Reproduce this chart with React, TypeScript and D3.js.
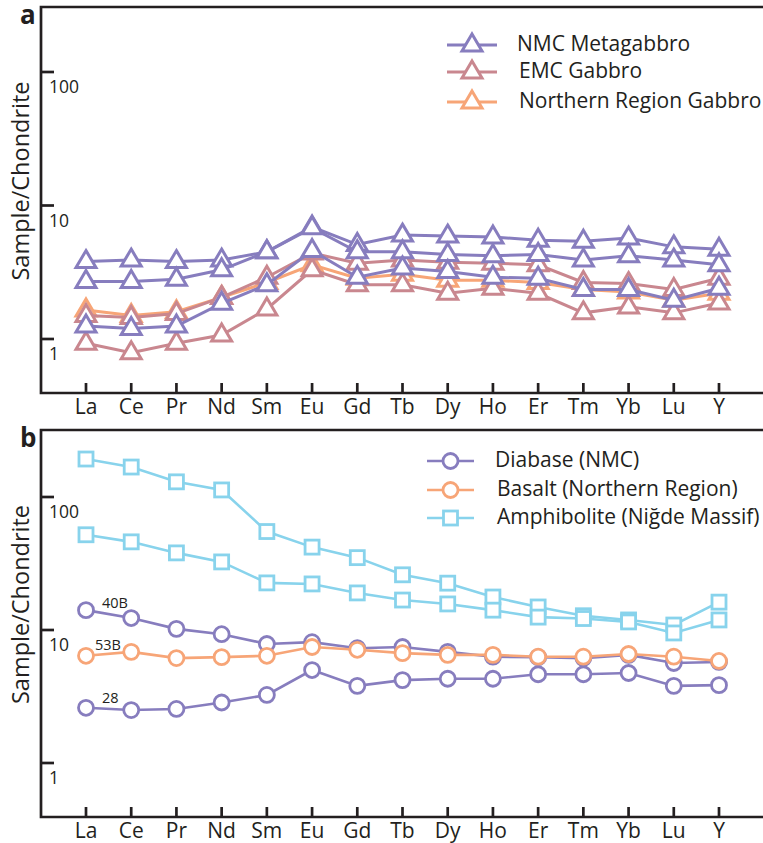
import React from "react";
import * as d3 from "d3";

// REE + Y, chondrite-normalised
const elements = ["La", "Ce", "Pr", "Nd", "Sm", "Eu", "Gd", "Tb", "Dy", "Ho", "Er", "Tm", "Yb", "Lu", "Y"];
const yTicks = [1, 10, 100];

// panel a
const nmcMetagabbro = [
  [3.8, 3.9, 3.8, 3.9, 4.5, 6.9, 5.1, 6.0, 5.9, 5.8, 5.5, 5.4, 5.7, 4.9, 4.7],
  [2.7, 2.7, 2.8, 3.3, 4.5, 6.8, 4.5, 4.5, 4.3, 4.2, 4.3, 3.9, 4.2, 3.9, 3.6],
  [1.25, 1.2, 1.25, 1.85, 2.55, 4.6, 2.9, 3.4, 3.2, 2.9, 2.85, 2.35, 2.35, 1.95, 2.4],
];
const emcGabbro = [
  [1.5, 1.45, 1.55, 2.05, 2.9, 4.4, 3.7, 3.9, 3.75, 3.7, 3.6, 2.65, 2.6, 2.35, 2.85],
  [0.93, 0.79, 0.93, 1.07, 1.68, 3.3, 2.55, 2.55, 2.2, 2.4, 2.2, 1.57, 1.74, 1.57, 1.86],
];
const northernGabbro = [
  [1.65, 1.5, 1.6, 2.05, 2.65, 3.6, 2.85, 3.05, 2.75, 2.75, 2.65, 2.35, 2.25, 1.95, 2.2],
];

// panel b
const diabase40B = [14.1, 12.3, 10.2, 9.3, 7.85, 8.1, 7.3, 7.45, 6.85, 6.3, 6.25, 6.15, 6.5, 5.65, 5.75];
const diabase28 = [2.6, 2.5, 2.55, 2.85, 3.25, 5.0, 3.8, 4.2, 4.3, 4.3, 4.65, 4.65, 4.75, 3.8, 3.85];
const basalt53B = [6.4, 6.85, 6.15, 6.25, 6.4, 7.45, 7.1, 6.7, 6.5, 6.5, 6.3, 6.3, 6.6, 6.3, 5.85];
const amphibolite = [
  [193, 168, 130, 113, 55, 42, 35, 26, 22.5, 17.7, 14.9, 12.8, 11.9, 10.9, 16.2],
  [52, 46, 38, 32.5, 22.6, 22.2, 19, 16.8, 15.7, 14.1, 12.5, 12.2, 11.5, 9.5, 11.9],
];

const PURPLE = "#877dbe";
const PINK = "#c9878f";
const ORANGE = "#f7a577";
const CYAN = "#88d3ec";
const INK = "#231f20";
const FONT = "'Open Sans', 'Noto Sans', sans-serif";

const W = 763;
const H = 843;
const left = 41;

const x = d3.scalePoint<string>().domain(elements).range([86, 719]);

type Marker = "triangle" | "circle" | "square";

const triangle = "M0,-11L10,6L-10,6Z";

function MarkerShape({ kind, cx, cy, color }: { kind: Marker; cx: number; cy: number; color: string }) {
  if (kind === "circle")
    return <circle cx={cx} cy={cy} r={7.5} fill="white" stroke={color} strokeWidth={2.8} />;
  if (kind === "square")
    return <rect x={cx - 7} y={cy - 7} width={14} height={14} fill="white" stroke={color} strokeWidth={2.8} />;
  return <path d={triangle} transform={`translate(${cx},${cy})`} fill="white" stroke={color} strokeWidth={3} strokeLinejoin="miter" />;
}

function Series({ values, y, color, kind, width }: { values: number[]; y: d3.ScaleLogarithmic<number, number>; color: string; kind: Marker; width: number }) {
  const line = d3
    .line<number>()
    .x((_, i) => x(elements[i]) as number)
    .y((d) => y(d));
  return (
    <g>
      <path d={line(values) || ""} fill="none" stroke={color} strokeWidth={width} />
      {values.map((v, i) => (
        <MarkerShape key={i} kind={kind} cx={x(elements[i]) as number} cy={y(v)} color={color} />
      ))}
    </g>
  );
}

function Frame({ top, bottom, y, letter }: { top: number; bottom: number; y: d3.ScaleLogarithmic<number, number>; letter: string }) {
  const mid = (top + bottom) / 2;
  return (
    <g>
      <path d={`M${W},${top}H${left}V${bottom}H${W}`} fill="none" stroke={INK} strokeWidth={2.7} />
      {yTicks.map((t) => (
        <g key={t}>
          <line x1={left} x2={left + 13} y1={y(t)} y2={y(t)} stroke={INK} strokeWidth={2.7} />
          <text x={49} y={y(t) + 21} fontSize={17.5} fill={INK} fontFamily={FONT}>
            {t}
          </text>
        </g>
      ))}
      {elements.map((e) => (
        <g key={e}>
          <line x1={x(e)} x2={x(e)} y1={bottom} y2={bottom - 10} stroke={INK} strokeWidth={2.7} />
          <text x={x(e)} y={bottom + 21} fontSize={21} textAnchor="middle" fill={INK} fontFamily={FONT}>
            {e}
          </text>
        </g>
      ))}
      <text
        transform={`translate(29,${mid - 19}) rotate(-90)`}
        textAnchor="middle"
        fontSize={23.5}
        fill={INK}
        fontFamily={FONT}
      >
        Sample/Chondrite
      </text>
      <text x={20} y={top + 17} fontSize={26} fontWeight="bold" fill={INK} fontFamily={FONT}>
        {letter}
      </text>
    </g>
  );
}

function Legend({ items, x0, x1, tx, ys, width }: { items: { label: string; color: string; kind: Marker }[]; x0: number; x1: number; tx: number; ys: number[]; width: number }) {
  return (
    <g>
      {items.map((it, i) => (
        <g key={it.label}>
          <line x1={x0} x2={x1} y1={ys[i]} y2={ys[i]} stroke={it.color} strokeWidth={width} />
          <MarkerShape kind={it.kind} cx={(x0 + x1) / 2} cy={ys[i]} color={it.color} />
          <text x={tx + (i > 0 ? 2 : 0)} y={ys[i] + 6} fontSize={21} fill={INK} fontFamily={FONT}>
            {it.label}
          </text>
        </g>
      ))}
    </g>
  );
}

export default function App() {
  const yA = d3.scaleLog().domain([1, 100]).range([339, 72]);
  const yB = d3.scaleLog().domain([1, 100]).range([763, 497]);

  return (
    <svg width={W} height={H} style={{ position: "absolute", left: 0, top: 0, background: "white" }}>
      {/* panel a */}
      <Frame top={7} bottom={393} y={yA} letter="a" />
      {northernGabbro.map((s, i) => (
        <Series key={"o" + i} values={s} y={yA} color={ORANGE} kind="triangle" width={3} />
      ))}
      {emcGabbro.map((s, i) => (
        <Series key={"p" + i} values={s} y={yA} color={PINK} kind="triangle" width={3} />
      ))}
      {nmcMetagabbro.map((s, i) => (
        <Series key={"m" + i} values={s} y={yA} color={PURPLE} kind="triangle" width={3} />
      ))}
      <Legend
        items={[
          { label: "NMC Metagabbro", color: PURPLE, kind: "triangle" },
          { label: "EMC Gabbro", color: PINK, kind: "triangle" },
          { label: "Northern Region Gabbro", color: ORANGE, kind: "triangle" },
        ]}
        x0={447}
        x1={497}
        tx={517}
        ys={[45, 72, 102]}
        width={3}
      />

      {/* panel b */}
      <Frame top={430} bottom={817} y={yB} letter="b" />
      {amphibolite.map((s, i) => (
        <Series key={"c" + i} values={s} y={yB} color={CYAN} kind="square" width={2.6} />
      ))}
      <Series values={diabase40B} y={yB} color={PURPLE} kind="circle" width={2.6} />
      <Series values={diabase28} y={yB} color={PURPLE} kind="circle" width={2.6} />
      <Series values={basalt53B} y={yB} color={ORANGE} kind="circle" width={2.6} />
      <text x={(x("La") as number) + 16} y={yB(diabase40B[0]) - 2} fontSize={14.5} fill={INK} fontFamily={FONT}>
        40B
      </text>
      <text x={(x("La") as number) + 9} y={yB(basalt53B[0]) - 6} fontSize={14.5} fill={INK} fontFamily={FONT}>
        53B
      </text>
      <text x={(x("La") as number) + 16} y={yB(diabase28[0]) - 5} fontSize={14.5} fill={INK} fontFamily={FONT}>
        28
      </text>
      <Legend
        items={[
          { label: "Diabase (NMC)", color: PURPLE, kind: "circle" },
          { label: "Basalt (Northern Region)", color: ORANGE, kind: "circle" },
          { label: "Amphibolite (Niğde Massif)", color: CYAN, kind: "square" },
        ]}
        x0={427}
        x1={474}
        tx={495}
        ys={[461, 490, 518]}
        width={2.6}
      />
    </svg>
  );
}
